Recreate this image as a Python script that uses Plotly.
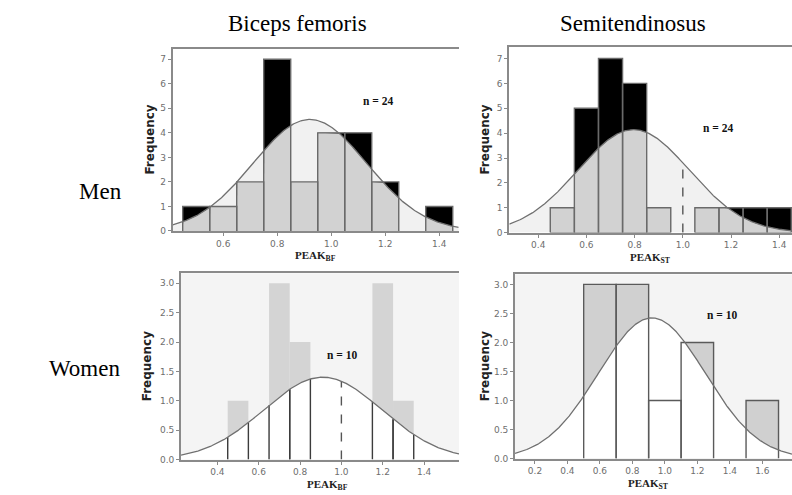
import numpy as np
import plotly.graph_objects as go

W, H = 792, 495

# Histogram bin centres and counts for each group
men_bf_centres = [0.5, 0.6, 0.7, 0.8, 0.9, 1.0, 1.1, 1.2, 1.3, 1.4]
men_bf_counts = [1, 1, 2, 7, 2, 4, 4, 2, 0, 1]
men_st_centres = [0.5, 0.6, 0.7, 0.8, 0.9, 1.0, 1.1, 1.2, 1.3, 1.4]
men_st_counts = [1, 5, 7, 6, 1, 0, 1, 1, 1, 1]
women_bf_centres = [0.5, 0.6, 0.7, 0.8, 0.9, 1.0, 1.1, 1.2, 1.3]
women_bf_counts = [1, 0, 3, 2, 0, 0, 0, 3, 1]
women_st_centres = [0.6, 0.8, 1.0, 1.2, 1.4, 1.6]
women_st_counts = [3, 3, 1, 2, 0, 1]

col_titles = ["Biceps femoris", "Semitendinosus"]
row_titles = ["Men", "Women"]
ref_line_x = 1.0

STYLES = {
    "men": dict(bg_above="#ffffff", bg_under="#f1f1f1", bar_above="#000000",
                bar_under="#d2d2d2", outline="#6a6a6a", edges_only=False),
    "women_bf": dict(bg_above="#f4f4f4", bg_under="#ffffff", bar_above="#d4d4d4",
                     bar_under="#ffffff", outline="#3c3c3c", edges_only=True),
    "women_st": dict(bg_above="#f4f4f4", bg_under="#ffffff", bar_above="#d0d0d0",
                     bar_under="#ffffff", outline="#5a5a5a", edges_only=False),
}

panels = [
    dict(centres=men_bf_centres, counts=men_bf_counts, width=0.1, style="men",
         xpx=(172.7, 458.7), ypx=(49, 233.3), xr=(0.413, 1.472), yr=(0, 7.44),
         xt=[0.6, 0.8, 1.0, 1.2, 1.4], yt=list(range(0, 8)), yfmt="d",
         dashed=False, sub="BF", lab=(315, 259), npos=(378, 102), fpos=(150, 141)),
    dict(centres=men_st_centres, counts=men_st_counts, width=0.1, style="men",
         xpx=(509.3, 792), ypx=(47.3, 235), xr=(0.28, 1.453), yr=(0, 7.47),
         xt=[0.4, 0.6, 0.8, 1.0, 1.2, 1.4], yt=list(range(0, 8)), yfmt="d",
         dashed=True, sub="ST", lab=(650, 261), npos=(718, 129), fpos=(485, 141)),
    dict(centres=women_bf_centres, counts=women_bf_counts, width=0.1, style="women_bf",
         xpx=(181, 459), ypx=(276, 464.3), xr=(0.224, 1.569), yr=(0, 3.17),
         xt=[0.4, 0.6, 0.8, 1.0, 1.2, 1.4], yt=[0, 0.5, 1, 1.5, 2, 2.5, 3], yfmt=".1f",
         dashed=True, sub="BF", lab=(327, 489.5), npos=(342, 359), fpos=(147, 370)),
    dict(centres=women_st_centres, counts=women_st_counts, width=0.2, style="women_st",
         xpx=(515, 792), ypx=(277.3, 463.3), xr=(0.077, 1.783), yr=(0, 3.17),
         xt=[0.2, 0.4, 0.6, 0.8, 1.0, 1.2, 1.4, 1.6], yt=[0, 0.5, 1, 1.5, 2, 2.5, 3], yfmt=".1f",
         dashed=False, sub="ST", lab=(648, 489), npos=(722, 318), fpos=(485, 370)),
]


def normal_fit(centres, counts, width):
    c = np.asarray(centres, float)
    k = np.asarray(counts, float)
    n = k.sum()
    mean = (c * k).sum() / n
    sd = np.sqrt(((c - mean) ** 2 * k).sum() / (n - 1))
    scale = n * width / (sd * np.sqrt(2 * np.pi))
    return int(n), (lambda x: scale * np.exp(-0.5 * ((np.asarray(x) - mean) / sd) ** 2))


def px(x):
    return x / W


def py(y):
    return 1 - y / H


fig = go.Figure()
layout = dict(shapes=[], annotations=[])

for i, p in enumerate(panels, start=1):
    st = STYLES[p["style"]]
    xa, ya = f"x{i}" if i > 1 else "x", f"y{i}" if i > 1 else "y"
    n, curve = normal_fit(p["centres"], p["counts"], p["width"])

    # background above the fitted curve
    layout["shapes"].append(dict(type="rect", xref=f"{xa} domain", yref=f"{ya} domain",
                                 x0=0, x1=1, y0=0, y1=1, fillcolor=st["bg_above"],
                                 line_width=0, layer="below"))

    xs = np.linspace(p["xr"][0], p["xr"][1], 400)
    ys = curve(xs)
    common = dict(xaxis=xa, yaxis=ya, showlegend=False, hoverinfo="skip")

    # area under the fitted curve
    fig.add_trace(go.Scatter(x=xs, y=ys, mode="lines", fill="tozeroy",
                             fillcolor=st["bg_under"], line=dict(width=0), **common))

    half = p["width"] / 2
    for c, h in zip(p["centres"], p["counts"]):
        if h == 0:
            continue
        l, r = c - half, c + half
        # full bar
        fig.add_trace(go.Scatter(x=[l, l, r, r, l], y=[0, h, h, 0, 0], mode="lines",
                                 fill="toself", fillcolor=st["bar_above"],
                                 line=dict(width=0), **common))
        # part of the bar lying under the curve
        bx = np.linspace(l, r, 60)
        by = np.minimum(curve(bx), h)
        fig.add_trace(go.Scatter(x=np.r_[l, bx, r, l], y=np.r_[0, by, 0, 0], mode="lines",
                                 fill="toself", fillcolor=st["bar_under"],
                                 line=dict(width=0), **common))

    # bar outlines
    for c, h in zip(p["centres"], p["counts"]):
        if h == 0:
            continue
        l, r = c - half, c + half
        if st["edges_only"]:
            for e in (l, r):
                fig.add_trace(go.Scatter(x=[e, e], y=[0, min(h, float(curve(e)))], mode="lines",
                                         line=dict(color=st["outline"], width=1.4), **common))
        else:
            fig.add_trace(go.Scatter(x=[l, l, r, r], y=[0, h, h, 0], mode="lines",
                                     line=dict(color=st["outline"], width=1.4), **common))

    if p["dashed"]:
        fig.add_trace(go.Scatter(x=[ref_line_x, ref_line_x], y=[0, float(curve(ref_line_x))],
                                 mode="lines", line=dict(color="#555555", width=1.4, dash="dash"),
                                 **common))

    # fitted normal curve
    fig.add_trace(go.Scatter(x=xs, y=ys, mode="lines",
                             line=dict(color="#707070", width=1.3), **common))

    axis_common = dict(showline=True, linecolor="#8a8a8a", linewidth=1.8, ticks="outside",
                       ticklen=3, tickcolor="#8a8a8a", tickwidth=1, showgrid=False,
                       zeroline=False, tickfont=dict(family="DejaVu Sans", size=9, color="#6e6e6e"))
    layout["xaxis" + (str(i) if i > 1 else "")] = dict(
        domain=[px(p["xpx"][0]), px(p["xpx"][1])], range=list(p["xr"]), anchor=ya,
        tickvals=p["xt"], tickformat=".1f", mirror=True, **axis_common)
    layout["yaxis" + (str(i) if i > 1 else "")] = dict(
        domain=[py(p["ypx"][1]), py(p["ypx"][0])], range=list(p["yr"]), anchor=xa,
        tickvals=p["yt"], tickformat=p["yfmt"], **axis_common)

    layout["annotations"] += [
        dict(text=f"<b>PEAK<sub>{p['sub']}</sub></b>", x=px(p["lab"][0]), y=py(p["lab"][1]),
             xref="paper", yref="paper", showarrow=False, xanchor="center", yanchor="middle",
             font=dict(family="Liberation Serif", size=11, color="#222222")),
        dict(text="<b>Frequency</b>", x=px(p["fpos"][0]), y=py(p["fpos"][1]), textangle=-90,
             xref="paper", yref="paper", showarrow=False, xanchor="center", yanchor="middle",
             font=dict(family="DejaVu Sans", size=12, color="#222222")),
        dict(text=f"<b>n = {n}</b>", x=px(p["npos"][0]), y=py(p["npos"][1]),
             xref="paper", yref="paper", showarrow=False, xanchor="center", yanchor="middle",
             font=dict(family="Liberation Serif", size=11.5, color="#111111")),
    ]

# column and row headings
for t, (cx, cy) in zip(col_titles, [(297, 24), (633, 24)]):
    layout["annotations"].append(dict(text=t, x=px(cx), y=py(cy), xref="paper", yref="paper",
                                      showarrow=False, xanchor="center", yanchor="middle",
                                      font=dict(family="Liberation Serif", size=23, color="#000000")))
for t, (cx, cy) in zip(row_titles, [(100, 193), (84, 372)]):
    layout["annotations"].append(dict(text=t, x=px(cx), y=py(cy), xref="paper", yref="paper",
                                      showarrow=False, xanchor="center", yanchor="middle",
                                      font=dict(family="Liberation Serif", size=23, color="#000000")))

fig.update_layout(width=W, height=H, margin=dict(l=0, r=0, t=0, b=0),
                  paper_bgcolor="#ffffff", plot_bgcolor="#ffffff", **layout)

fig.write_html("out.html")
